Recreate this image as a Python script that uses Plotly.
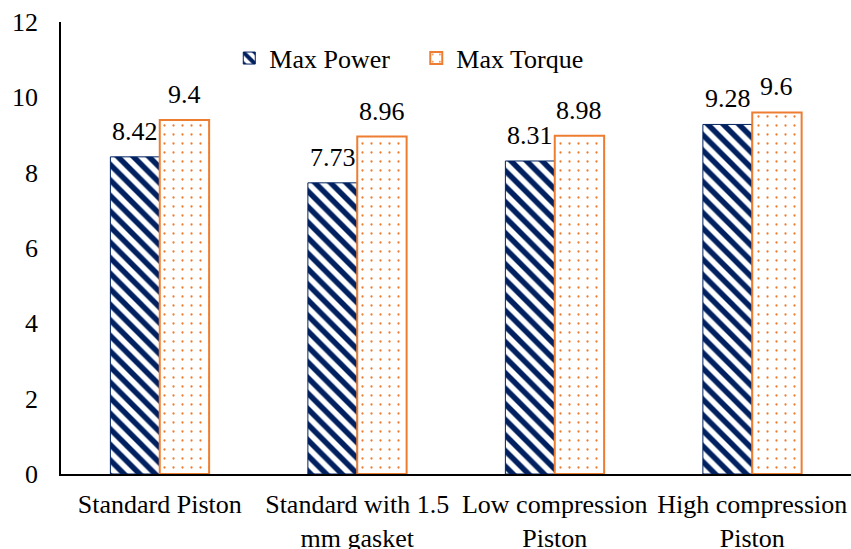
import plotly.graph_objects as go

categories = ["Standard Piston", "Standard with 1.5<br>mm gasket", "Low compression<br>Piston", "High compression<br>Piston"]
max_power = [8.42, 7.73, 8.31, 9.28]
max_torque = [9.4, 8.96, 8.98, 9.6]
power_labels = ["8.42", "7.73", "8.31", "9.28"]
torque_labels = ["9.4", "8.96", "8.98", "9.6"]

NAVY = "#002060"
ORANGE = "#ED7D31"
FONT = "Liberation Serif, Times New Roman, serif"

fig = go.Figure()
fig.add_trace(go.Bar(
    x=categories, y=max_power, name="Max Power",
    marker=dict(color="white", line=dict(color=NAVY, width=1),
                pattern=dict(shape="\\", fgcolor=NAVY, bgcolor="white", size=11, solidity=0.5, fillmode="replace")),
))
fig.add_trace(go.Bar(
    x=categories, y=max_torque, name="Max Torque",
    marker=dict(color="white", line=dict(color=ORANGE, width=2),
                pattern=dict(shape=".", fgcolor=ORANGE, bgcolor="white", size=9, solidity=0.05, fillmode="replace")),
))

# value labels above each bar (bars occupy +/-0.125 of a category slot)
for i, (vp, vt, lp, lt) in enumerate(zip(max_power, max_torque, power_labels, torque_labels)):
    for off, v, lab in ((-0.125, vp, lp), (0.125, vt, lt)):
        fig.add_annotation(x=i + off, y=v, text=lab, showarrow=False, xref="x", yref="y",
                           yanchor="bottom", yshift=9,
                           font=dict(family=FONT, size=26, color="black"))

fig.update_layout(
    width=851, height=549,
    margin=dict(l=61, r=0, t=22, b=75),
    paper_bgcolor="white", plot_bgcolor="white",
    barmode="group", bargap=0.5, bargroupgap=0,
    font=dict(family=FONT, size=26, color="black"),
    showlegend=True,
    legend=dict(orientation="h", x=0.213, y=0.92, xanchor="left", yanchor="middle",
                font=dict(family=FONT, size=26, color="black"), entrywidth=142,
                bgcolor="rgba(0,0,0,0)", itemwidth=30, traceorder="normal"),
    xaxis=dict(showline=True, linecolor="black", linewidth=2, ticks="", automargin=False,
               ticklabelstandoff=6,
               tickfont=dict(family=FONT, size=26, color="black"), showgrid=False),
    yaxis=dict(range=[0, 12], dtick=2, showline=True, linecolor="black", linewidth=1.5,
               ticks="", showgrid=False, zeroline=False, ticklabelstandoff=16, automargin=False,
               tickfont=dict(family=FONT, size=26, color="black")),
)

fig.write_html("out.html", config={"displayModeBar": False},
               post_script="document.body.style.margin='0';document.body.style.overflow='hidden';")
